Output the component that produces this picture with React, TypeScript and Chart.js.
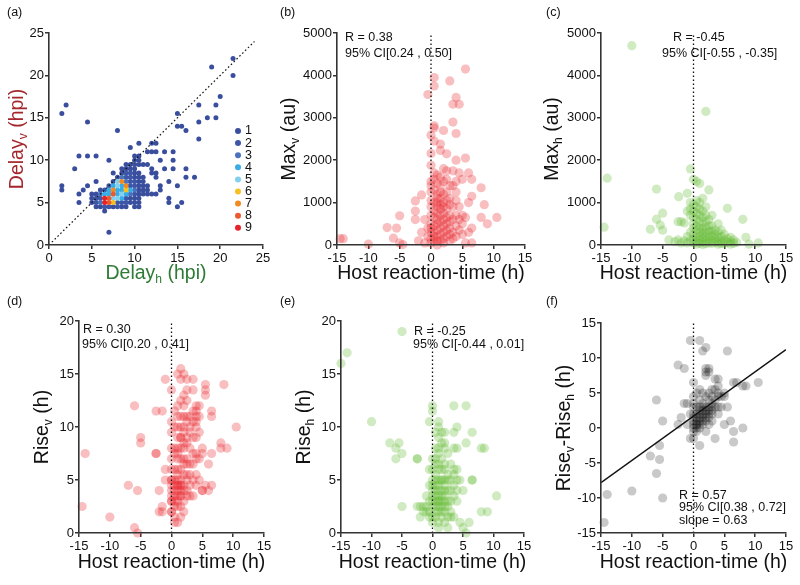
import React, { useEffect, useRef } from "react";
import { Chart, registerables } from "chart.js";

Chart.register(...registerables);

type P = [number, number];

// ---------- (a) Delay_v vs Delay_h, grouped by count ----------
const delayLevels = ["1", "2", "3", "4", "5", "6", "7", "8", "9"];
const delayCount1: P[] = [
  [5.5, 4.5], [6, 4.5], [7.5, 4.5], [8.5, 4.5], [9, 4.5], [10, 4.5], [10.5, 4.5], [15, 4.5], [6.5, 4],
  [3.5, 5], [5, 5], [9.5, 5], [10, 5], [10.5, 5], [14, 5], [15.5, 5],
  [5, 5.5], [9.5, 5.5], [10, 5.5], [10.5, 5.5], [14, 5.5],
  [3.5, 6], [5, 6], [5.5, 6], [10.5, 6], [11, 6], [11.5, 6], [12, 6], [12.5, 6],
  [1.5, 6.5], [4, 6.5], [6, 6.5], [10.5, 6.5], [11, 6.5], [11.5, 6.5], [13, 6.5],
  [1.5, 7], [4.5, 7], [10.5, 7], [11, 7], [11.5, 7], [13, 7], [15, 7],
  [5.5, 7.5], [7.5, 7.5], [10.5, 7.5], [11, 7.5], [14, 7.5],
  [8, 8], [10, 8], [10.5, 8], [11, 8], [12.5, 8], [16, 8], [17, 8],
  [7.5, 8.5], [8.5, 8.5], [10, 8.5], [10.5, 8.5], [12, 8.5], [12.5, 8.5],
  [3, 9], [8.5, 9], [9, 9], [9.5, 9], [10, 9], [12, 9], [13.5, 9], [14.5, 9], [16, 9],
  [9, 9.5], [9.5, 9.5], [10, 9.5], [10.5, 9.5], [11, 9.5], [11.5, 9.5],
  [7, 10], [10, 10], [10.5, 10], [13, 10], [14.5, 10],
  [3.5, 10.5], [4.5, 10.5], [5.5, 10.5], [10, 10.5], [10.5, 10.5],
  [11.5, 11], [12, 11], [12.5, 11], [13.5, 11], [14.5, 11], [9.5, 11.5],
  [10.5, 12], [12, 12], [12.5, 12],
  [1.5, 15.5], [2, 16.5], [4.5, 14.5], [8, 13.5], [7, 1.5], [15, 15.5], [15, 14], [15.5, 14], [16, 13.5],
  [17.5, 16.5], [17.5, 14.5], [17.5, 12.5], [18.5, 15], [19.5, 15], [19.5, 16.5], [20, 17.5], [19, 21],
  [21.5, 22], [21.5, 20],
];
const delayCount2: P[] = [
  [5.5, 5], [6, 5.5], [5.5, 5.5], [8, 5], [8.5, 5], [9, 5.5], [9, 5], [6.5, 6.5], [7, 7], [9.5, 7], [10, 7],
  [9.5, 7.5], [10, 7.5], [9, 8], [9.5, 8], [9, 8.5], [9.5, 8.5], [8, 4.5], [7, 4.5], [10, 6], [6.5, 4.5],
];
const delayCount3: P[] = [[6, 6], [9.5, 6], [10, 6.5], [9, 7.5], [8.5, 8], [6, 5]];
const delayCount4: P[] = [
  [8.5, 5.5], [6.5, 6], [7, 6], [8, 6], [9, 6], [7, 6.5], [8, 6.5], [8.5, 6.5], [9.5, 6.5], [7.5, 7], [8.5, 7],
];
const delayCount5: P[] = [[7.5, 5.5], [8, 5.5], [8.5, 6], [8, 7], [8, 7.5]];
const delayCount6: P[] = [[7.5, 5], [9, 6.5]];
const delayCount7: P[] = [[7.5, 6.5], [9, 7], [8.5, 7.5]];
const delayCount8: P[] = [[7, 5], [7, 5.5], [7.5, 6]];
const delayCount9: P[] = [[6.5, 5], [6.5, 5.5]];
const delayDiagonal: P[] = [[0, 0], [24, 24]];

// ---------- (b) Max_v vs host reaction-time ----------
const maxVPoints: P[] = [
  [-14.5, 150], [-14, 150], [-10, 20], [-7, 410], [-6, 160], [-5.5, 400], [-5, 690], [-5, 50], [-4.5, 10],
  [-2.5, 1040], [-2.5, 800], [-2.5, 600], [-2, 100], [-1.5, 1180], [-1.5, 300], [-1, 600], [-1, 50],
  [-0.5, 3550], [-0.5, 200], [-0.5, 400],
  [0, 2590], [0, 2160], [0, 1880], [0, 1500], [0, 1400], [0, 1250], [0, 1050], [0, 900], [0, 700], [0, 500],
  [0, 400], [0, 300], [0, 150], [0, 50],
  [0.5, 3950], [0.5, 3750], [0.5, 2810], [0.5, 2760], [0.5, 2450], [0.5, 1700], [0.5, 1550], [0.5, 1300],
  [0.5, 1000], [0.5, 800], [0.5, 650], [0.5, 450], [0.5, 300], [0.5, 200], [0.5, 100],
  [1, 1650], [1, 1450], [1, 1200], [1, 1000], [1, 900], [1, 750], [1, 600], [1, 500], [1, 350], [1, 200],
  [1, 100], [1, 1100], [1, 0],
  [1.5, 2380], [1.5, 2230], [1.5, 1600], [1.5, 1400], [1.5, 1250], [1.5, 1100], [1.5, 950], [1.5, 850],
  [1.5, 700], [1.5, 550], [1.5, 400], [1.5, 250], [1.5, 100],
  [2, 2700], [2, 1800], [2, 1500], [2, 1200], [2, 1000], [2, 900], [2, 750], [2, 600], [2, 450], [2, 300],
  [2, 150], [2, 50],
  [2.5, 2150], [2.5, 1750], [2.5, 1550], [2.5, 1250], [2.5, 1050], [2.5, 850], [2.5, 650], [2.5, 500],
  [2.5, 350], [2.5, 200],
  [3, 3870], [3, 1400], [3, 1100], [3, 950], [3, 700], [3, 550], [3, 400], [3, 250], [3, 100],
  [3.5, 3320], [3.5, 2900], [3.5, 1750], [3.5, 1400], [3.5, 900], [3.5, 600], [3.5, 300], [3.5, 150],
  [4, 3480], [4, 2630], [4, 2000], [4, 1500], [4, 1250], [4, 700], [4, 450], [4, 200], [4, 1050],
  [4.5, 3320], [4.5, 1700], [4.5, 900], [4.5, 600], [4.5, 350],
  [5, 1550], [5, 700], [5, 500], [5, 250],
  [5.5, 4150], [5.5, 2050], [5.5, 650], [5.5, 50],
  [6, 1700], [6, 1000], [6, 300], [6.5, 1550], [6.5, 1150], [6.5, 400], [6.5, 50],
  [8, 1350], [8, 650], [8.5, 950], [9, 500], [10.5, 650],
];
const maxVZeroLine: P[] = [[0, 0], [0, 5000]];

// ---------- (c) Max_h vs host reaction-time ----------
const maxHPoints: P[] = [
  [-10, 4700], [-14, 1575], [-14.5, 420], [-6, 1320], [-6, 610], [-5.4, 470], [-5, 750], [-5, 350], [-7, 370],
  [-4, 120], [-2.4, 1140], [-1, 1220], [-2.5, 550], [-2, 550], [-1.5, 520], [-2.5, 120], [-1.5, 100],
  [-0.5, 1795], [-2, 50], [-3, 80],
  [-0.5, 1000], [-0.5, 850], [-0.5, 700], [-0.5, 300], [-0.5, 100], [-1, 800], [-1, 200], [-1, 50],
  [0, 1550], [0, 950], [0, 800], [0, 650], [0, 500], [0, 400], [0, 250], [0, 150], [0, 50],
  [0.5, 1500], [0.5, 1050], [0.5, 900], [0.5, 750], [0.5, 600], [0.5, 450], [0.5, 350], [0.5, 200],
  [0.5, 100], [0.5, 20],
  [1, 1450], [1, 1000], [1, 850], [1, 700], [1, 550], [1, 400], [1, 300], [1, 200], [1, 120], [1, 40],
  [1.5, 1100], [1.5, 800], [1.5, 650], [1.5, 500], [1.5, 380], [1.5, 280], [1.5, 180], [1.5, 80], [1.5, 10],
  [2, 3150], [2, 900], [2, 700], [2, 550], [2, 420], [2, 300], [2, 200], [2, 100], [2, 30],
  [2.5, 1300], [2.5, 600], [2.5, 450], [2.5, 330], [2.5, 230], [2.5, 130], [2.5, 50],
  [3, 700], [3, 450], [3, 330], [3, 220], [3, 120], [3, 40],
  [3.5, 350], [3.5, 250], [3.5, 150], [3.5, 60],
  [4, 500], [4, 300], [4, 180], [4, 80], [4, 20],
  [4.5, 350], [4.5, 200], [4.5, 100], [4.5, 30],
  [5, 250], [5, 120], [5, 40], [5.5, 866], [5.5, 150], [5.5, 60],
  [6, 180], [6, 80], [6, 20], [6.5, 120], [6.5, 40], [7, 60],
  [8, 606], [8.5, 181], [9, 20], [10.5, 50],
];
const maxHZeroLine: P[] = [[0, 0], [0, 5000]];

// ---------- (d) Rise_v vs host reaction-time ----------
const riseVPoints: P[] = [
  [-14.5, 2.5], [-14, 7.5], [-10, 1.5], [-6, 12], [-6, 0.5], [-5.5, 0], [-7, 4.5], [-5.5, 4], [-5, 9], [-5, 8.5],
  [-2.5, 11.5], [-1.5, 11.5], [-2.5, 7.5], [-2.5, 7.5], [-2, 4], [-1.5, 2.5], [-1.5, 2], [-2, 2], [-1, 14.5],
  [-1, 6], [-1, 5],
  [5.5, 14], [5.5, 13.5], [5.5, 13], [8.5, 14], [10.5, 10], [8, 8.5], [8, 8], [9, 8], [6.5, 11.5], [6.5, 11],
  [6.5, 7.5], [6, 6.5], [5.5, 4.5], [6.5, 4.5], [5, 4], [6, 4],
  [0, 13.5], [0, 10.5], [0, 9.5], [0, 8], [0, 7], [0, 6], [0, 5], [0, 5], [0, 4.5], [0, 4], [0, 3.5], [0, 3],
  [0, 3], [0, 2], [0, 2],
  [0.5, 11.5], [0.5, 10], [0.5, 8], [0.5, 7.5], [0.5, 6], [0.5, 5], [0.5, 4.5], [0.5, 4], [0.5, 3.5], [0.5, 3],
  [0.5, 2.5], [0.5, 1.5], [0.5, 1],
  [1, 15], [1, 12], [1, 11], [1, 10], [1, 9], [1, 8], [1, 7.5], [1, 7], [1, 6], [1, 5.5], [1, 5], [1, 4.5],
  [1, 4.5], [1, 4], [1, 3.5], [1, 3], [1, 2.5], [1, 1],
  [1.5, 15.5], [1.5, 14.5], [1.5, 12.5], [1.5, 11], [1.5, 10], [1.5, 9], [1.5, 9], [1.5, 8], [1.5, 7], [1.5, 6],
  [1.5, 5], [1.5, 4.5], [1.5, 4.5], [1.5, 4], [1.5, 3.5], [1.5, 3.5], [1.5, 2.5], [1.5, 1.5],
  [2, 15], [2, 13], [2, 12], [2, 11], [2, 10], [2, 9.5], [2, 8.5], [2, 8], [2, 7], [2, 6.5], [2, 5.5], [2, 4.5],
  [2, 4], [2, 3], [2, 2],
  [2.5, 14.5], [2.5, 13.5], [2.5, 12.5], [2.5, 11], [2.5, 10.5], [2.5, 9], [2.5, 8.5], [2.5, 7], [2.5, 6.5],
  [2.5, 5.5], [2.5, 5], [2.5, 4], [2.5, 3.5],
  [3, 11], [3, 10], [3, 9.5], [3, 8], [3, 6.5], [3, 5.5], [3, 4.5], [3, 3.5],
  [3.5, 14.5], [3.5, 13.5], [3.5, 11.5], [3.5, 10.5], [3.5, 9], [3.5, 7.5], [3.5, 6.5], [3.5, 5], [3.5, 3.5],
  [4, 12], [4, 11.5], [4, 11], [4, 10.5], [4, 10], [4, 9], [4, 7.5], [4, 7], [4, 5.5], [4, 4.5],
  [4.5, 12], [4.5, 11], [4.5, 9.5], [4.5, 7], [4.5, 5], [5, 8], [5, 7.5], [5, 4],
];
const riseVZeroLine: P[] = [[0, 0], [0, 20]];

// ---------- (e) Rise_h vs host reaction-time ----------
const riseHPoints: P[] = [
  [-15, 16], [-14, 17], [-5, 19], [-10, 10.5], [-7, 8.5], [-5.5, 8.5], [-6, 8], [-5, 7.5], [-6, 7], [-2.5, 7],
  [-2.5, 7], [-5, 2.5], [-0.5, 10.5], [5.5, 12], [6.5, 9.5], [5.5, 8.5], [8, 8], [8.5, 8], [6.5, 5], [6.5, 5],
  [10.5, 3.5], [8, 2], [9, 2], [5.5, 0], [6, 1], [-2.5, 2.5], [-2, 2.5], [-1.5, 2.5], [-1.5, 2], [-2, 1.5],
  [-1, 3.5], [-1, 2.5], [-1, 2],
  [-0.5, 6], [-0.5, 4.5], [-0.5, 3], [-0.5, 2], [-0.5, 1.5],
  [0, 12], [0, 11.5], [0, 7], [0, 6], [0, 5], [0, 4.5], [0, 4], [0, 3.5], [0, 3], [0, 2.5], [0, 1.5], [0, 1],
  [0.5, 9.5], [0.5, 8], [0.5, 7], [0.5, 6.5], [0.5, 5.5], [0.5, 5], [0.5, 4.5], [0.5, 4], [0.5, 3.5], [0.5, 3],
  [0.5, 2.5], [0.5, 2], [0.5, 1.5],
  [1, 10.5], [1, 10], [1, 9], [1, 8], [1, 7.5], [1, 6.5], [1, 6], [1, 5], [1, 4.5], [1, 4], [1, 3.5], [1, 3],
  [1, 3], [1, 2.5], [1, 2], [1, 1], [1, 0.5],
  [1.5, 9.5], [1.5, 8.5], [1.5, 7], [1.5, 6], [1.5, 5], [1.5, 5], [1.5, 4], [1.5, 3.5], [1.5, 3], [1.5, 2.5],
  [1.5, 2], [1.5, 1.5],
  [2, 9.5], [2, 8.5], [2, 8], [2, 6.5], [2, 6], [2, 5], [2, 4.5], [2, 4], [2, 3.5], [2, 3], [2, 2.5], [2, 2], [2, 1],
  [2.5, 7.5], [2.5, 5.5], [2.5, 5], [2.5, 4], [2.5, 3], [2.5, 2.5], [2.5, 1.5], [2.5, 0.5],
  [3, 6.5], [3, 5], [3, 4], [3, 3], [3, 2], [3, 1.5],
  [3.5, 12], [3.5, 9.5], [3.5, 8], [3.5, 6], [3.5, 5.5], [3.5, 4.5], [3.5, 3.5], [3.5, 1.5],
  [4, 10], [4, 8], [4, 6], [4, 5], [4, 4], [4, 3], [4.5, 5], [4.5, 1], [5, 4], [5, 0.5],
];
const riseHZeroLine: P[] = [[0, 0], [0, 20]];

// ---------- (f) Rise_v - Rise_h vs host reaction-time ----------
const riseDiffPoints: P[] = [
  [-14.5, -13.5], [-14, -9.5], [-10, -9], [-6, 4], [-6, -6.5], [-5.5, -4.5], [-5.5, -2.5], [-7, -4], [-5, 1],
  [-5, -10], [-2.5, 9], [-1.5, 8.5], [-2.5, 0.5], [-2, 1.5], [-1.5, 3.5], [-1, 3.5], [-1, 0.5], [-0.5, 12.5],
  [-0.5, 2], [-0.5, -1.5], [1, 12.5], [2, 11.5], [1.5, 11], [5.5, 11], [6.5, 6.5], [7, 6.5], [8, 6], [8.5, 6],
  [10.5, 6.5], [8, 0], [6.5, -0.5], [6.5, -2], [3.5, -1.5], [1, -2.5], [5, 0.5], [6, 1],
  [0, 6.5], [0, 3], [0, 2], [0, 1.5], [0, 1], [0, 0.5], [0, 0], [0, -0.5], [0, -1.5], [0, 3.5], [0, 4.5],
  [0.5, 5], [0.5, 3], [0.5, 2], [0.5, 1.5], [0.5, 1], [0.5, 0.5], [0.5, 0], [0.5, 0.5], [0.5, -0.5],
  [1, 5.5], [1, 4], [1, 2.5], [1, 2], [1, 1.5], [1, 1], [1, 0.5], [1, 0], [1, 3],
  [1.5, 5], [1.5, 3], [1.5, 2.5], [1.5, 2], [1.5, 1.5], [1.5, 1], [1.5, 0.5], [1.5, 3.5],
  [2, 8.5], [2, 8], [2, 7.5], [2, 4.5], [2, 3], [2, 2.5], [2, 2], [2, 1.5], [2, 1], [2, -0.5],
  [2.5, 8.5], [2.5, 8], [2.5, 5], [2.5, 4], [2.5, 3], [2.5, 2.5], [2.5, 2], [2.5, 1.5], [2.5, 0.5],
  [3, 5.5], [3, 4.5], [3, 3.5], [3, 3], [3, 2.5], [3, 2], [3, 1],
  [3.5, 7], [3.5, 5.5], [3.5, 4], [3.5, 3],
  [4, 7], [4, 6], [4, 5], [4, 4.5], [4, 3], [4, 2], [4.5, 4.5], [4.5, 3], [5, 5], [5, 4.5], [5.5, 3],
];
const riseDiffZeroLine: P[] = [[0, -15], [0, 15]];
const riseDiffFit: P[] = [[-15, -7.8], [15, 11.2]];

// ---------- styling ----------
const FONT = '"Liberation Sans", Arial, Helvetica, sans-serif';
const levelColors = ["#3a4e9e", "#3d56a8", "#4b72bc", "#36ade6", "#82d0ee", "#f8c020", "#f28a22", "#ec5a2c", "#e5232a"];
const RED = "rgba(232,40,48,0.3)";
const GREEN = "rgba(100,185,50,0.3)";
const GREY = "rgba(0,0,0,0.21)";

type Seg = { t: string; sub?: boolean };
type Note = { text: string; x: number; y: number };
interface Panel {
  area: { l: number; r: number; t: number; b: number };
  xr: [number, number, number];
  yr: [number, number, number];
  datasets: any[];
  yTitle: Seg[];
  yTitleX: number;
  yColor: string;
  xTitle: Seg[];
  xTitleY: number;
  xColor: string;
  label: Note;
  notes: Note[];
  legend?: boolean;
}

const pts = (arr: P[]) => arr.map(([x, y]) => ({ x, y }));
const scatterDs = (arr: P[], color: string, r: number) => ({
  type: "scatter",
  data: pts(arr),
  backgroundColor: color,
  borderColor: color,
  borderWidth: 0,
  pointRadius: r,
  pointHoverRadius: r,
  clip: false,
});
const lineDs = (arr: P[], dash: number[], width: number) => ({
  type: "scatter",
  showLine: true,
  data: pts(arr),
  borderColor: "#111",
  backgroundColor: "#111",
  borderWidth: width,
  borderDash: dash,
  pointRadius: 0,
  fill: false,
});

const hostTitle: Seg[] = [{ t: "Host reaction-time (h)" }];
const DOTS = [1.6, 2.4];
const TOP_XTITLE = 272;
const BOTTOM_XTITLE = 561;

const panels: Panel[] = [
  {
    area: { l: 49, r: 263, t: 33, b: 245 },
    xr: [0, 25, 5],
    yr: [0, 25, 5],
    datasets: [
      lineDs(delayDiagonal, DOTS, 1.2),
      ...[delayCount9, delayCount8, delayCount7, delayCount6, delayCount5, delayCount4, delayCount3, delayCount2, delayCount1].map(
        (arr, i) => scatterDs(arr, levelColors[8 - i], 2.5)
      ),
    ],
    yTitle: [{ t: "Delay" }, { t: "v", sub: true }, { t: " (hpi)" }],
    yTitleX: 16,
    yColor: "#a3272c",
    xTitle: [{ t: "Delay" }, { t: "h", sub: true }, { t: " (hpi)" }],
    xTitleY: TOP_XTITLE,
    xColor: "#2e7b35",
    label: { text: "(a)", x: 7, y: 13 },
    notes: [],
    legend: true,
  },
  {
    area: { l: 337, r: 525, t: 33, b: 245 },
    xr: [-15, 15, 5],
    yr: [0, 5000, 1000],
    datasets: [lineDs(maxVZeroLine, DOTS, 1.3), scatterDs(maxVPoints, RED, 4.6)],
    yTitle: [{ t: "Max" }, { t: "v", sub: true }, { t: " (au)" }],
    yTitleX: 288,
    yColor: "#111",
    xTitle: hostTitle,
    xTitleY: TOP_XTITLE,
    xColor: "#111",
    label: { text: "(b)", x: 280, y: 13 },
    notes: [
      { text: "R = 0.38", x: 345, y: 38 },
      { text: "95% CI[0.24 , 0.50]", x: 345, y: 54 },
    ],
  },
  {
    area: { l: 601, r: 786, t: 33, b: 245 },
    xr: [-15, 15, 5],
    yr: [0, 5000, 1000],
    datasets: [lineDs(maxHZeroLine, DOTS, 1.3), scatterDs(maxHPoints, GREEN, 4.6)],
    yTitle: [{ t: "Max" }, { t: "h", sub: true }, { t: " (au)" }],
    yTitleX: 551,
    yColor: "#111",
    xTitle: hostTitle,
    xTitleY: TOP_XTITLE,
    xColor: "#111",
    label: { text: "(c)", x: 546, y: 13 },
    notes: [
      { text: "R = -0.45", x: 673, y: 38 },
      { text: "95% CI[-0.55 , -0.35]", x: 662, y: 54 },
    ],
  },
  {
    area: { l: 79, r: 264, t: 321, b: 533 },
    xr: [-15, 15, 5],
    yr: [0, 20, 5],
    datasets: [lineDs(riseVZeroLine, DOTS, 1.3), scatterDs(riseVPoints, RED, 4.6)],
    yTitle: [{ t: "Rise" }, { t: "v", sub: true }, { t: " (h)" }],
    yTitleX: 41,
    yColor: "#111",
    xTitle: hostTitle,
    xTitleY: BOTTOM_XTITLE,
    xColor: "#111",
    label: { text: "(d)", x: 7, y: 302 },
    notes: [
      { text: "R = 0.30", x: 83, y: 330 },
      { text: "95% CI[0.20 , 0.41]", x: 82, y: 345 },
    ],
  },
  {
    area: { l: 341, r: 524, t: 321, b: 533 },
    xr: [-15, 15, 5],
    yr: [0, 20, 5],
    datasets: [lineDs(riseHZeroLine, DOTS, 1.3), scatterDs(riseHPoints, GREEN, 4.6)],
    yTitle: [{ t: "Rise" }, { t: "h", sub: true }, { t: " (h)" }],
    yTitleX: 303,
    yColor: "#111",
    xTitle: hostTitle,
    xTitleY: BOTTOM_XTITLE,
    xColor: "#111",
    label: { text: "(e)", x: 280, y: 302 },
    notes: [
      { text: "R = -0.25", x: 414, y: 332 },
      { text: "95% CI[-0.44 , 0.01]", x: 413, y: 345 },
    ],
  },
  {
    area: { l: 601, r: 786, t: 323, b: 533 },
    xr: [-15, 15, 5],
    yr: [-15, 15, 5],
    datasets: [
      lineDs(riseDiffFit, [], 1.4),
      lineDs(riseDiffZeroLine, DOTS, 1.3),
      scatterDs(riseDiffPoints, GREY, 4.6),
    ],
    yTitle: [{ t: "Rise" }, { t: "v", sub: true }, { t: "-Rise" }, { t: "h", sub: true }, { t: " (h)" }],
    yTitleX: 563,
    yColor: "#111",
    xTitle: hostTitle,
    xTitleY: BOTTOM_XTITLE,
    xColor: "#111",
    label: { text: "(f)", x: 546, y: 302 },
    notes: [
      { text: "R = 0.57", x: 679, y: 496 },
      { text: "95% CI[0.38 , 0.72]", x: 679, y: 508 },
      { text: "slope = 0.63", x: 679, y: 521 },
    ],
  },
];

const TITLE_SIZE = 19.5;
const NOTE_SIZE = 12.5;

function drawRich(ctx: CanvasRenderingContext2D, segs: Seg[], x: number, y: number, color: string, rotate: boolean) {
  const size = TITLE_SIZE;
  const subSize = size * 0.62;
  ctx.save();
  ctx.translate(x, y);
  if (rotate) ctx.rotate(-Math.PI / 2);
  let total = 0;
  const widths: number[] = [];
  for (const s of segs) {
    ctx.font = `${s.sub ? subSize : size}px ${FONT}`;
    const w = ctx.measureText(s.t).width;
    widths.push(w);
    total += w;
  }
  let cx = -total / 2;
  ctx.fillStyle = color;
  ctx.textAlign = "left";
  ctx.textBaseline = "alphabetic";
  const base = size * 0.36;
  segs.forEach((s, i) => {
    ctx.font = `${s.sub ? subSize : size}px ${FONT}`;
    ctx.fillText(s.t, cx, base + (s.sub ? size * 0.2 : 0));
    cx += widths[i];
  });
  ctx.restore();
}

function makeOverlay(p: Panel) {
  return {
    id: "overlay",
    afterDraw(chart: any) {
      const ctx: CanvasRenderingContext2D = chart.ctx;
      ctx.save();
      ctx.fillStyle = "#111";
      ctx.textBaseline = "middle";
      ctx.textAlign = "left";
      ctx.font = `${NOTE_SIZE}px ${FONT}`;
      ctx.fillText(p.label.text, p.label.x, p.label.y);
      for (const n of p.notes) ctx.fillText(n.text, n.x, n.y);
      if (p.legend) {
        delayLevels.forEach((lab, i) => {
          const y = 131 + i * 12.1;
          ctx.beginPath();
          ctx.fillStyle = levelColors[i];
          ctx.arc(238, y, 3, 0, Math.PI * 2);
          ctx.fill();
          ctx.fillStyle = "#111";
          ctx.fillText(lab, 245, y);
        });
      }
      ctx.restore();
      const a = chart.chartArea;
      drawRich(ctx, p.yTitle, p.yTitleX, (a.top + a.bottom) / 2, p.yColor, true);
      drawRich(ctx, p.xTitle, (a.left + a.right) / 2, p.xTitleY, p.xColor, false);
    },
  };
}

const Y_AXIS_W = 40;
const X_AXIS_H = 30;

function axis(range: [number, number, number], isY: boolean) {
  return {
    type: "linear",
    min: range[0],
    max: range[1],
    ticks: {
      stepSize: range[2],
      color: "#111",
      font: { family: FONT, size: 13 },
      padding: isY ? 1 : 2,
      maxRotation: 0,
      autoSkip: false,
      callback: (v: number) => String(v),
    },
    grid: { drawOnChartArea: false, drawTicks: true, tickLength: 4, color: "#333", lineWidth: 1.5 },
    border: { display: true, color: "#333", width: 1.6, z: 1 },
    afterFit: (s: any) => {
      if (isY) s.width = Y_AXIS_W;
      else s.height = X_AXIS_H;
    },
  };
}

function PanelChart({ p }: { p: Panel }) {
  const ref = useRef<HTMLCanvasElement>(null);
  useEffect(() => {
    if (!ref.current) return;
    const chart = new Chart(ref.current, {
      type: "scatter",
      data: { datasets: p.datasets },
      options: {
        animation: false,
        responsive: false,
        events: [],
        layout: {
          padding: {
            left: p.area.l - Y_AXIS_W,
            right: 800 - p.area.r,
            top: p.area.t,
            bottom: 585 - p.area.b - X_AXIS_H,
          },
        },
        plugins: { legend: { display: false }, tooltip: { enabled: false }, title: { display: false } },
        scales: { x: axis(p.xr, false), y: axis(p.yr, true) },
      } as any,
      plugins: [makeOverlay(p)],
    } as any);
    return () => chart.destroy();
  }, [p]);
  return (
    <canvas
      ref={ref}
      width={800}
      height={585}
      style={{ position: "absolute", left: 0, top: 0, width: 800, height: 585 }}
    />
  );
}

export default function App() {
  return (
    <div style={{ position: "absolute", left: 0, top: 0, width: 800, height: 585, background: "#fff", overflow: "hidden" }}>
      {panels.map((p, i) => (
        <PanelChart key={i} p={p} />
      ))}
    </div>
  );
}
